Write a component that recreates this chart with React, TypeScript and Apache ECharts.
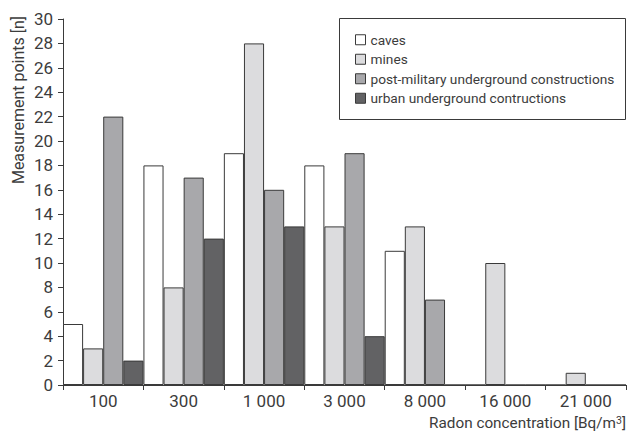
import React, { useEffect, useRef } from "react";
import * as echarts from "echarts";

const categories = ["100", "300", "1 000", "3 000", "8 000", "16 000", "21 000"];
const seriesNames = [
  "caves",
  "mines",
  "post-military underground constructions",
  "urban underground contructions",
];
const caves = [5, 18, 19, 18, 11, 0, 0];
const mines = [3, 8, 28, 13, 13, 10, 1];
const postMilitary = [22, 17, 16, 19, 7, 0, 0];
const urban = [2, 12, 13, 4, 0, 0, 0];
const yTicks = { min: 0, max: 30, interval: 2 };
const colors = ["#ffffff", "#dcdcde", "#a8a8ab", "#626264"];

const FONT = "Roboto, 'Liberation Sans', sans-serif";
const TEXT = "#3c3c3c";
const LINE = "#3a3a3a";

export default function App() {
  const ref = useRef<HTMLDivElement>(null);
  useEffect(() => {
    if (!ref.current) return;
    const chart = echarts.init(ref.current, undefined, { renderer: "svg" });
    const values = [caves, mines, postMilitary, urban];
    chart.setOption({
      animation: false,
      backgroundColor: "#ffffff",
      textStyle: { fontFamily: FONT, color: TEXT },
      grid: { left: 63, right: 2, top: 19, bottom: 50, containLabel: false },
      legend: {
        orient: "vertical",
        left: 355,
        top: 31.5,
        padding: 0,
        itemWidth: 10,
        itemHeight: 10,
        itemGap: 3,
        icon: "rect",
        textStyle: { fontFamily: FONT, fontSize: 13.7, color: TEXT, lineHeight: 16.5 },
        data: seriesNames.map((n, i) => ({
          name: n,
          itemStyle: { color: colors[i], borderColor: LINE, borderWidth: 1 },
        })),
      },
      xAxis: {
        type: "category",
        data: categories,
        boundaryGap: true,
        axisLine: { show: true, lineStyle: { color: LINE, width: 1 } },
        axisTick: { show: true, length: 5, interval: 0, lineStyle: { color: LINE } },
        axisLabel: { fontFamily: FONT, fontSize: 17, color: TEXT, margin: 7, interval: 0 },
        splitLine: { show: false },
      },
      yAxis: {
        type: "value",
        min: yTicks.min,
        max: yTicks.max,
        interval: yTicks.interval,
        axisLine: { show: true, lineStyle: { color: LINE, width: 1 } },
        axisTick: { show: true, length: 5, lineStyle: { color: LINE } },
        axisLabel: { fontFamily: FONT, fontSize: 17, color: TEXT, margin: 10 },
        splitLine: { show: false },
      },
      series: seriesNames.map((n, i) => ({
        name: n,
        type: "bar",
        data: values[i],
        barGap: "0%",
        barCategoryGap: "0%",
        itemStyle: { color: colors[i], borderColor: LINE, borderWidth: 1 },
      })),
      graphic: [
        {
          type: "rect",
          shape: { x: 339.5, y: 18.5, width: 286, height: 101 },
          style: { fill: "none", stroke: LINE, lineWidth: 1 },
          z: 10,
        },
        {
          type: "text",
          x: 18,
          y: 100,
          rotation: Math.PI / 2,
          style: {
            text: "Measurement points [n]",
            fontFamily: FONT,
            fontSize: 16,
            fill: TEXT,
            align: "center",
            verticalAlign: "middle",
          },
        },
        {
          type: "text",
          x: 626,
          y: 423,
          style: {
            text: "Radon concentration [Bq/m{s|3}]",
            fontFamily: FONT,
            fontSize: 15.3,
            fill: TEXT,
            align: "right",
            verticalAlign: "middle",
            rich: {
              s: { fontFamily: FONT, fontSize: 10.5, fill: TEXT, verticalAlign: "top", padding: [0, 0, 6, 0] },
            },
          },
        },
      ],
    });
    return () => chart.dispose();
  }, []);
  return (
    <div
      ref={ref}
      style={{ position: "fixed", left: 0, top: 0, width: 628, height: 435, background: "#fff" }}
    />
  );
}
